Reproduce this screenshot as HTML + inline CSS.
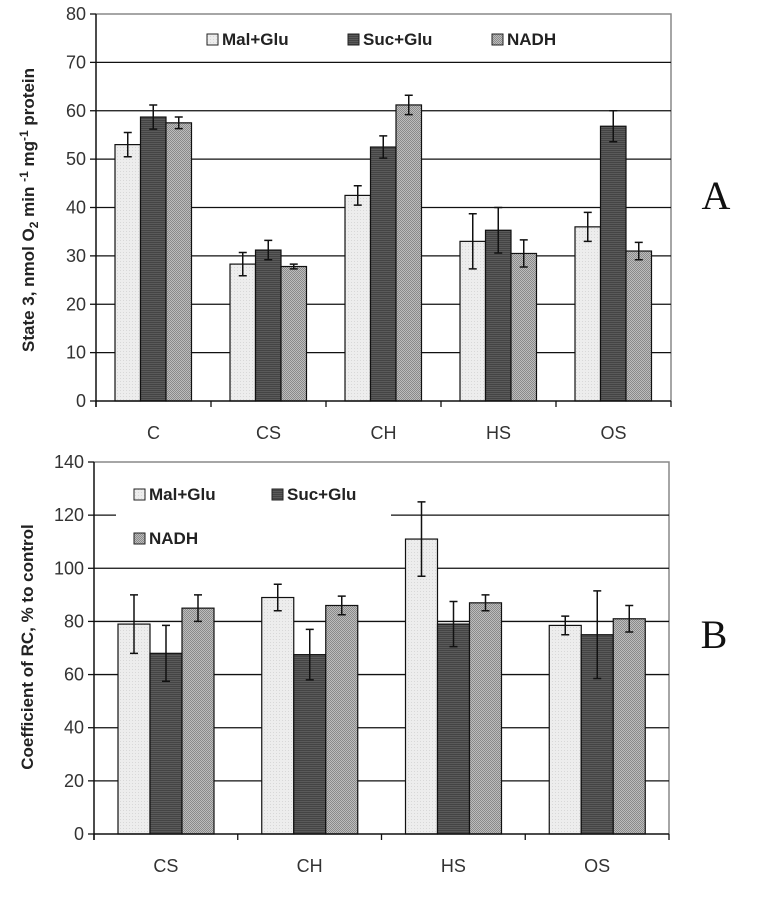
<!DOCTYPE html>
<html><head><meta charset="utf-8"><style>
body{margin:0;background:#fff;width:761px;height:897px;overflow:hidden}
svg{display:block}
text{font-family:"Liberation Sans",Arial,sans-serif}
text.serif{font-family:"Liberation Serif",serif}
</style></head><body>
<svg id="svg" width="761" height="897" xmlns="http://www.w3.org/2000/svg">
<defs>
<pattern id="pMal" width="3" height="3" patternUnits="userSpaceOnUse"><rect width="3" height="3" fill="#ededed"/><rect width="1" height="1" fill="#d8d8d8"/></pattern>
<pattern id="pSuc" width="4" height="2" patternUnits="userSpaceOnUse"><rect width="4" height="2" fill="#5a5a5a"/><rect width="4" height="1" fill="#444"/></pattern>
<pattern id="pNad" width="2" height="2" patternUnits="userSpaceOnUse"><rect width="2" height="2" fill="#bdbdbd"/><rect width="1" height="1" fill="#8a8a8a"/><rect x="1" y="1" width="1" height="1" fill="#8a8a8a"/></pattern>
</defs>
</svg>
<script>
const catsA=['C','CS','CH','HS','OS'];
const malA=[53,28.3,42.5,33,36];
const malAErr=[2.5,2.4,2,5.7,3];
const sucA=[58.7,31.2,52.5,35.3,56.8];
const sucAErr=[2.5,2,2.3,4.7,3.2];
const nadA=[57.5,27.8,61.2,30.5,31];
const nadAErr=[1.2,0.5,2,2.8,1.8];
const ticksA=[0,10,20,30,40,50,60,70,80];

const catsB=['CS','CH','HS','OS'];
const malB=[79,89,111,78.5];
const malBErr=[11,5,14,3.5];
const sucB=[68,67.5,79,75];
const sucBErr=[10.5,9.5,8.5,16.5];
const nadB=[85,86,87,81];
const nadBErr=[5,3.5,3,5];
const ticksB=[0,20,40,60,80,100,120,140];

const NS='http://www.w3.org/2000/svg';
const svg=document.getElementById('svg');
function mk(tag,attrs,parent,txt){const e=document.createElementNS(NS,tag);for(const k in attrs)e.setAttribute(k,attrs[k]);if(txt!==undefined)e.textContent=txt;(parent||svg).appendChild(e);return e;}

function chart(o){
  const g=mk('g',{});
  
  
  const y=v=>o.y0-(v/o.max)*(o.y0-o.yTop);
  const cw=(o.x1-o.x0)/o.cats.length;
  mk('polyline',{points:`${o.x0},${o.yTop} ${o.x1},${o.yTop} ${o.x1},${o.y0}`,fill:'none',stroke:'#888','stroke-width':1.5},g);
  o.ticks.forEach(t=>{
    if(t>0&&t<o.max){const l=mk('line',{x1:o.x0,x2:o.x1,y1:y(t),y2:y(t),stroke:'#111','stroke-width':1.3},g);
      
      }
    mk('line',{x1:o.x0-6,x2:o.x0,y1:y(t),y2:y(t),stroke:'#111','stroke-width':1.3},g);
    const tl=mk('text',{x:o.x0-10,y:y(t)+6,'text-anchor':'end','font-size':18,fill:'#333'},g,String(t));
    
    
  });
  if(o.legBg){mk('rect',Object.assign({fill:'#fff'},o.legBg),g);}
  const series=[[o.mal,o.malE,'url(#pMal)','mal'],[o.suc,o.sucE,'url(#pSuc)','suc'],[o.nad,o.nadE,'url(#pNad)','nad']];
  o.cats.forEach((c,i)=>{
    series.forEach((s,j)=>{
      const bx=o.x0+i*cw+o.off+j*o.bw;
      const b=mk('rect',{x:bx,y:y(s[0][i]),width:o.bw,height:o.y0-y(s[0][i]),fill:s[2],stroke:'#111','stroke-width':1.2},g);
      
      
      const cx=bx+o.bw/2,hi=y(s[0][i]+s[1][i]),lo=y(s[0][i]-s[1][i]);
      const eb=mk('path',{d:`M${cx},${hi}V${lo}M${cx-4},${hi}H${cx+4}M${cx-4},${lo}H${cx+4}`,stroke:'#111','stroke-width':1.5,fill:'none'},g);
      
      
    });
    const xl=mk('text',{x:o.x0+(i+0.5)*cw,y:o.y0+38,'text-anchor':'middle','font-size':18,fill:'#333'},g,c);
    
    
  });
  mk('line',{x1:o.x0,x2:o.x0,y1:o.yTop,y2:o.y0+6,stroke:'#111','stroke-width':1.5},g);
  mk('line',{x1:o.x0,x2:o.x1,y1:o.y0,y2:o.y0,stroke:'#111','stroke-width':1.5},g);
  for(let i=0;i<=o.cats.length;i++){mk('line',{x1:o.x0+i*cw,x2:o.x0+i*cw,y1:o.y0,y2:o.y0+6,stroke:'#111','stroke-width':1.3},g);}
  o.leg.forEach(l=>{
    mk('rect',{x:l[0],y:l[1]-11,width:11,height:11,fill:l[3],stroke:'#222','stroke-width':1},g);
    const t=mk('text',{x:l[0]+15,y:l[1],'font-size':17,'font-weight':'bold',fill:'#222'},g,l[2]);
    
    
  });
  return g;
}

chart({name:'chart-a',cats:catsA,mal:malA,malE:malAErr,suc:sucA,sucE:sucAErr,nad:nadA,nadE:nadAErr,ticks:ticksA,max:80,
  x0:96,x1:671,y0:401,yTop:14,off:19,bw:25.5,
  leg:[[207,45,'Mal+Glu','url(#pMal)'],[348,45,'Suc+Glu','url(#pSuc)'],[492,45,'NADH','url(#pNad)']]});
chart({name:'chart-b',cats:catsB,mal:malB,malE:malBErr,suc:sucB,sucE:sucBErr,nad:nadB,nadE:nadBErr,ticks:ticksB,max:140,
  x0:94,x1:669,y0:834,yTop:462,off:24,bw:32,legBg:{x:116,y:470,width:275,height:85},
  leg:[[134,500,'Mal+Glu','url(#pMal)'],[272,500,'Suc+Glu','url(#pSuc)'],[134,544,'NADH','url(#pNad)']]});

const ta=mk('text',{x:0,y:0,transform:'translate(34,210) rotate(-90)','text-anchor':'middle','font-size':17,'font-weight':'bold',fill:'#222'});
ta.innerHTML='State 3, nmol O<tspan font-size="12" dy="4">2</tspan><tspan dy="-4"> min </tspan><tspan font-size="12" dy="-6">-1</tspan><tspan dy="6"> mg</tspan><tspan font-size="12" dy="-6">-1</tspan><tspan dy="6"> protein</tspan>';


const tb=mk('text',{x:0,y:0,transform:'translate(33,647) rotate(-90)','text-anchor':'middle','font-size':17,'font-weight':'bold',fill:'#222'},null,'Coefficient of RC, % to control');


const la=mk('text',{x:716,y:209,'text-anchor':'middle','font-size':40,fill:'#111','class':'serif'},null,'A');


const lb=mk('text',{x:714,y:648,'text-anchor':'middle','font-size':40,fill:'#111','class':'serif'},null,'B');


</script>
</body></html>
